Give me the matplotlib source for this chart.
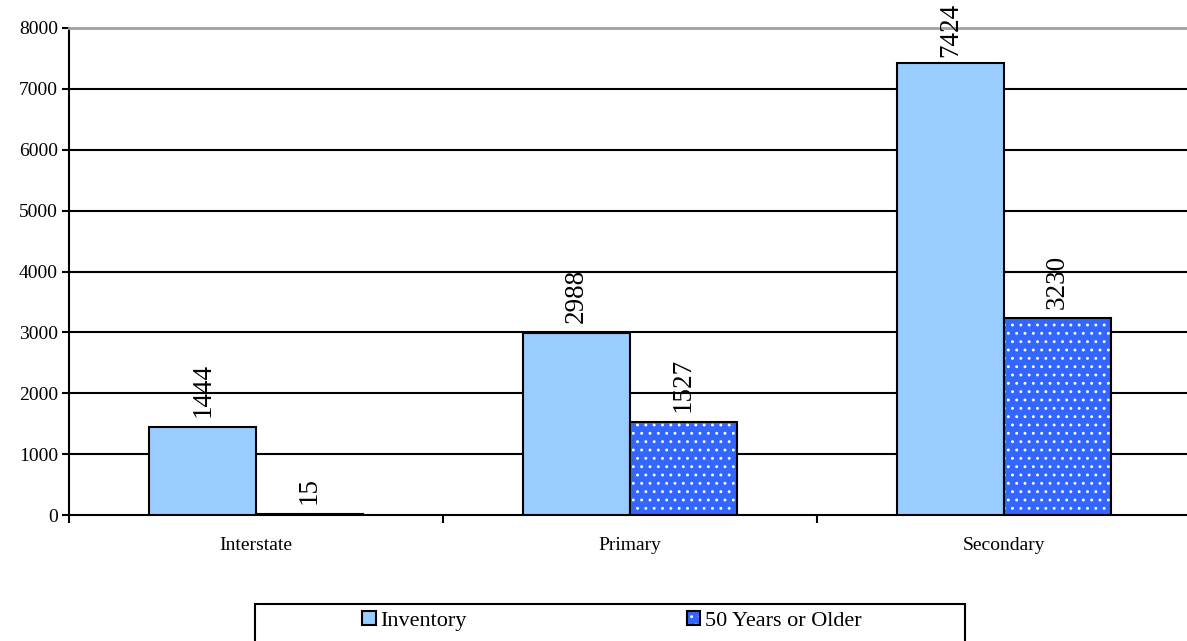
import matplotlib as mpl
mpl.use('Agg')

import matplotlib.pyplot as plt
from matplotlib.patches import Patch, Rectangle
from matplotlib.legend_handler import HandlerTuple
import numpy

# data
categories = ['Interstate', 'Primary', 'Secondary']
inventory = [1444, 2988, 7424]
older = [15, 1527, 3230]
series_names = ['Inventory', '50 Years or Older']
yticks = [0, 1000, 2000, 3000, 4000, 5000, 6000, 7000, 8000]

light_blue = '#99CCFF'
dark_blue = '#3366FF'

plt.rcParams['font.family'] = ['Liberation Serif', 'DejaVu Serif']
plt.rcParams['hatch.linewidth'] = 0.9

fig = plt.figure(figsize=[11.87, 6.41], dpi=100)
ax = fig.add_axes([69/1187, 1 - 515/641, 1122/1187, (515 - 28)/641])

x = numpy.arange(len(categories))
w = 0.285

# inventory bars
ax.bar(x - w/2, inventory, w, color=light_blue, edgecolor='black', linewidth=1.5, zorder=3)

# 50 years bars: dotted fill, then black outline on top
ax.bar(x + w/2, older, w, color=dark_blue, edgecolor='white', linewidth=0, hatch='..', zorder=3)
ax.bar(x + w/2, older, w, fill=False, edgecolor='black', linewidth=1.5, zorder=4)

# value labels
labels = []
for i in range(len(categories)):
    labels.append(ax.annotate(str(inventory[i]), (x[i] - w/2, inventory[i]), xytext=(0, 7),
                              textcoords='offset points', rotation=90, ha='center', va='bottom',
                              fontsize=19.5, zorder=5, annotation_clip=False))
    labels.append(ax.annotate(str(older[i]), (x[i] + w/2, older[i]), xytext=(0, 7),
                              textcoords='offset points', rotation=90, ha='center', va='bottom',
                              fontsize=19.5, zorder=5, annotation_clip=False))

ax.set_xlim(-0.5, len(categories) - 0.5)
ax.set_ylim(0, 8000)
ax.set_yticks(yticks)
ax.set_yticklabels([str(t) for t in yticks], fontsize=14)
ax.tick_params(axis='y', length=5, width=1.5, pad=3)

ax.set_xticks(x)
ax.set_xticklabels(categories, fontsize=14)
ax.set_xticks(numpy.arange(len(categories) + 1) - 0.5, minor=True)
ax.tick_params(axis='x', which='major', length=0, pad=16)
ax.tick_params(axis='x', which='minor', length=6, width=1.5)

# gridlines
for t in yticks[1:-1]:
    ax.axhline(t, color='black', linewidth=1.5, zorder=1)

ax.spines['top'].set_color('#A0A0A0')
ax.spines['top'].set_linewidth(2)
ax.spines['right'].set_visible(False)
ax.spines['left'].set_linewidth(1.5)
ax.spines['bottom'].set_linewidth(1.5)

# push labels that run off the top back inside the figure
fig.canvas.draw()
renderer = fig.canvas.get_renderer()
for lab in labels:
    bb = lab.get_window_extent(renderer)
    over = bb.y1 - (fig.bbox.height - 3)
    if over > 0:
        ox, oy = lab.xyann
        lab.xyann = (ox, oy - over * 72 / fig.dpi)

# legend
h1 = Patch(facecolor=light_blue, edgecolor='black', linewidth=1.5)
h2 = (Patch(facecolor=dark_blue, edgecolor='white', linewidth=0, hatch='..'),
      Patch(fill=False, edgecolor='black', linewidth=1.5))
leg = fig.legend([h1, h2], series_names, loc='center left',
                 bbox_to_anchor=(362/1187, 1 - 621/641), ncol=2, frameon=False,
                 fontsize=16, handlelength=0.62, handleheight=0.62,
                 handletextpad=0.2, columnspacing=9.9, borderpad=0, borderaxespad=0,
                 handler_map={tuple: HandlerTuple(ndivide=1)})

fig.patches.append(Rectangle((255/1187, -0.01), 710/1187, 1 - 604/641 + 0.01,
                             transform=fig.transFigure, fill=False,
                             edgecolor='black', linewidth=1.5))

plt.savefig('out.png', dpi=100)
